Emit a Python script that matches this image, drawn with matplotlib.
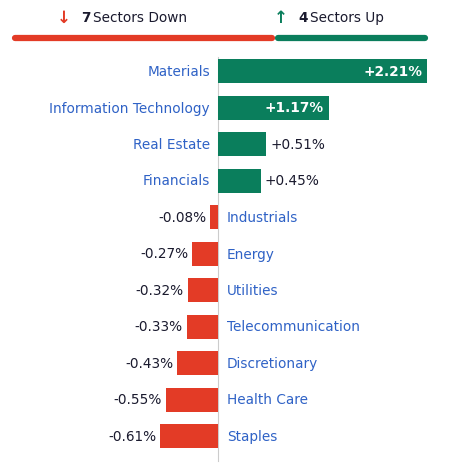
import matplotlib
matplotlib.use("Agg")
import matplotlib.pyplot as plt

categories = ["Materials", "Information Technology", "Real Estate", "Financials", "Industrials",
              "Energy", "Utilities", "Telecommunication", "Discretionary", "Health Care", "Staples"]
values = [2.21, 1.17, 0.51, 0.45, -0.08, -0.27, -0.32, -0.33, -0.43, -0.55, -0.61]
n_down, n_up = 7, 4

GREEN = "#0a7e5c"; RED = "#e33b26"; BLUE = "#2f62c6"; DARK = "#1a1a2e"
fig = plt.figure(figsize=(4.51, 4.64), dpi=100)
ax = fig.add_axes([0, 0, 1, 1])
ppu = 94.6
ax.set_xlim(-218 / ppu, (451 - 218) / ppu)
ax.set_ylim(464, 0)
ax.axis("off")
px = 1 / ppu

ys = [72 + i * 36.5 for i in range(len(values))]
cols = [GREEN if v >= 0 else RED for v in values]
ax.barh(ys, values, height=24, color=cols, zorder=2)
ax.plot([0, 0], [58, 462], color="#cccccc", lw=0.8, zorder=1)
fs = 9.8
for y, v, c in zip(ys, values, categories):
    s = f"{v:+.2f}%"
    if v >= 0:
        ax.text(-8 * px, y, c, ha="right", va="center", color=BLUE, fontsize=fs)
        if v > 1:
            ax.text(v - 5 * px, y, s, ha="right", va="center", color="white", fontsize=fs, fontweight="bold")
        else:
            ax.text(v + 4 * px, y, s, ha="left", va="center", color=DARK, fontsize=fs)
    else:
        ax.text(9 * px, y, c, ha="left", va="center", color=BLUE, fontsize=fs)
        ax.text(v - 4 * px, y, s, ha="right", va="center", color=DARK, fontsize=fs)

# header bar
x0 = -218 / ppu
tot = n_down + n_up
ax.plot([x0 + 15 * px, x0 + 272 * px], [39, 39], color=RED, lw=4.5, solid_capstyle="round")
ax.plot([x0 + 278 * px, x0 + 425 * px], [39, 39], color=GREEN, lw=4.5, solid_capstyle="round")
ax.text(x0 + 57 * px, 18, "↓", color=RED, fontsize=12, fontweight="bold", ha="left", va="center")
ax.text(x0 + 81 * px, 18, str(n_down), color=DARK, fontsize=fs, fontweight="bold", ha="left", va="center")
ax.text(x0 + 93 * px, 18, "Sectors Down", color=DARK, fontsize=fs, ha="left", va="center")
ax.text(x0 + 274 * px, 18, "↑", color=GREEN, fontsize=12, fontweight="bold", ha="left", va="center")
ax.text(x0 + 298 * px, 18, str(n_up), color=DARK, fontsize=fs, fontweight="bold", ha="left", va="center")
ax.text(x0 + 310 * px, 18, "Sectors Up", color=DARK, fontsize=fs, ha="left", va="center")
fig.savefig("out.png", dpi=100)
